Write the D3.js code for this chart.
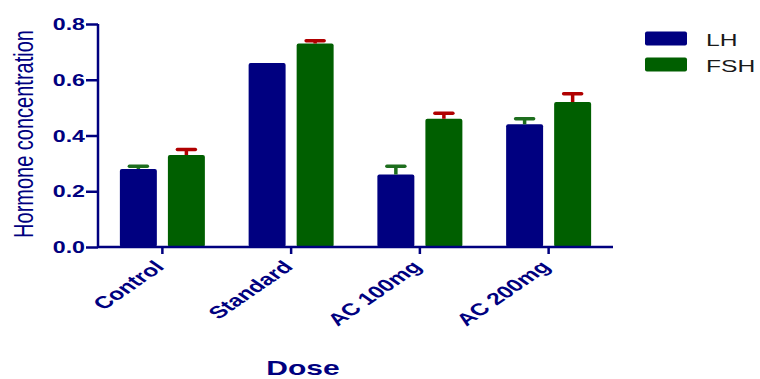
<!DOCTYPE html>
<html><head><meta charset="utf-8">
<script src="https://cdn.jsdelivr.net/npm/d3@7/dist/d3.min.js"></script>
<style>html,body{margin:0;padding:0;background:#fff;}svg{display:block;}</style>
</head><body>
<svg id="chart" width="760" height="379"></svg>
<script>
const categories = ["Control", "Standard", "AC 100mg", "AC 200mg"];
const seriesNames = ["LH", "FSH"];
const lhValues = [0.28, 0.66, 0.26, 0.44];
const lhErrors = [0.01, 0.0, 0.03, 0.02];
const fshValues = [0.33, 0.73, 0.46, 0.52];
const fshErrors = [0.02, 0.01, 0.02, 0.03];
const yTicks = [0.0, 0.2, 0.4, 0.6, 0.8];
const yLabel = "Hormone concentration";
const xLabel = "Dose";

const navy = "#00007f";
const barColors = {LH: "#000080", FSH: "#005f00"};
const errColors = {LH: "#1e6e1e", FSH: "#b00000"};
const SX = 1.45;

const svg = d3.select("#chart");
const x0 = d3.scaleBand().domain(categories).range([98, 613]).padding(0);
const bw = x0.bandwidth();
const x1 = d3.scaleBand().domain(seriesNames).range([bw/2 - 42.5, bw/2 + 42.5]).paddingInner(0.23);
const y = d3.scaleLinear().domain([0, 0.8]).range([247, 24]);

const data = [];
categories.forEach((c, i) => {
  data.push({cat: c, s: "LH", v: lhValues[i], e: lhErrors[i]});
  data.push({cat: c, s: "FSH", v: fshValues[i], e: fshErrors[i]});
});

// bars
svg.append("g").selectAll("rect").data(data).join("rect")
  .attr("x", d => x0(d.cat) + x1(d.s))
  .attr("y", d => y(d.v))
  .attr("width", x1.bandwidth())
  .attr("height", d => y(0) - y(d.v))
  .attr("rx", 2)
  .attr("fill", d => barColors[d.s]);

// error bars
const eg = svg.append("g");
data.filter(d => d.e > 0).forEach(d => {
  const cx = x0(d.cat) + x1(d.s) + x1.bandwidth()/2;
  eg.append("line").attr("x1", cx).attr("x2", cx).attr("y1", y(d.v)).attr("y2", y(d.v + d.e))
    .attr("stroke", errColors[d.s]).attr("stroke-width", 3.5);
  eg.append("line").attr("x1", cx - 9).attr("x2", cx + 9).attr("y1", y(d.v + d.e)).attr("y2", y(d.v + d.e))
    .attr("stroke", errColors[d.s]).attr("stroke-width", 3.5).attr("stroke-linecap", "round");
});

// y axis
const yAxis = d3.axisLeft(y).tickValues(yTicks).tickSize(12).tickFormat(d3.format(".1f"));
const gy = svg.append("g").attr("transform", "translate(98,0)").call(yAxis);
gy.select(".domain").attr("stroke", navy).attr("stroke-width", 2.5).attr("d", `M0,${y(0.8)}V${y(0)+1}`);
gy.selectAll(".tick line").attr("stroke", navy).attr("stroke-width", 2.5);
gy.selectAll(".tick text").attr("x", null).attr("dy", null)
  .attr("transform", `translate(-13,5.5) scale(${SX},1)`)
  .attr("text-anchor", "end")
  .attr("fill", navy).attr("font-family", "Liberation Sans, Arial, sans-serif")
  .attr("font-weight", "bold").attr("font-size", 16);

// x axis
const xAxis = d3.axisBottom(x0).tickSize(7);
const gx = svg.append("g").attr("transform", `translate(0,${y(0)})`).call(xAxis);
gx.select(".domain").attr("stroke", navy).attr("stroke-width", 2.5).attr("d", "M98,0H613");
gx.selectAll(".tick line").attr("stroke", navy).attr("stroke-width", 2.5);
gx.selectAll(".tick text").attr("y", null).attr("dy", null)
  .attr("transform", `translate(3,21) scale(${SX},1) rotate(-45)`)
  .attr("text-anchor", "end")
  .attr("fill", navy).attr("font-family", "Liberation Sans, Arial, sans-serif")
  .attr("font-weight", "bold").attr("font-size", 17);

// axis titles
svg.append("text").text(yLabel)
  .attr("transform", `translate(33,134) scale(1.4,1) rotate(-90)`)
  .attr("text-anchor", "middle").attr("fill", navy)
  .attr("font-family", "Liberation Sans, Arial, sans-serif").attr("font-size", 20);
svg.append("text").text(xLabel)
  .attr("transform", `translate(303,375) scale(1.5,1)`)
  .attr("text-anchor", "middle").attr("fill", navy)
  .attr("font-family", "Liberation Sans, Arial, sans-serif").attr("font-weight", "bold").attr("font-size", 20);

// legend
const lg = svg.append("g");
seriesNames.forEach((s, i) => {
  const ly = 31.5 + i * 26;
  lg.append("rect").attr("x", 645).attr("y", ly).attr("width", 42).attr("height", 14).attr("rx", 2)
    .attr("fill", barColors[s]);
  lg.append("text").text(s)
    .attr("transform", `translate(706,${ly + 14}) scale(${SX},1)`)
    .attr("fill", "#1a1a1a").attr("font-family", "Liberation Sans, Arial, sans-serif").attr("font-size", 17);
});
</script>
</body></html>
